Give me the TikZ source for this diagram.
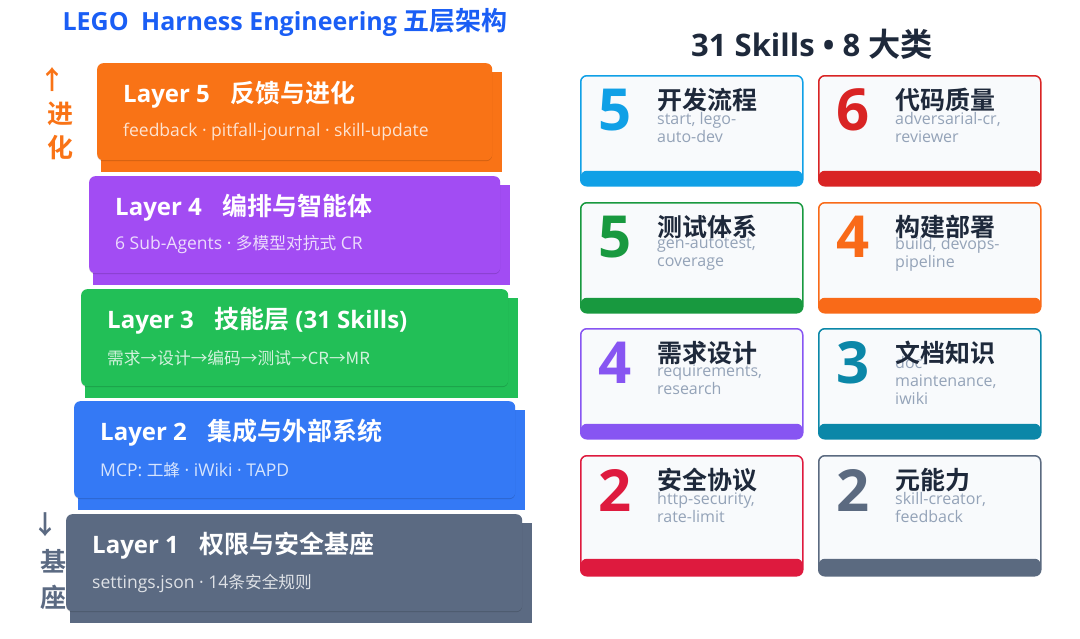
\documentclass[tikz,border=0pt]{standalone}
\usepackage{fontspec}
\setmainfont{Open Sans}
\newfontfamily\zhfont{Noto Sans CJK SC}[Scale=1.04, BoldFont={Noto Sans CJK SC Bold}]
\newfontfamily\zhsubfont{Noto Sans CJK SC}[Scale=0.955]
\newcommand{\zh}[1]{{\zhfont #1}}
\newcommand{\zs}[1]{{\zhsubfont #1}}
\usetikzlibrary{positioning, shadows}

\definecolor{titleblue}{HTML}{1A5EF5}
\definecolor{ink}{HTML}{1E293B}
\definecolor{mute}{HTML}{94A3B8}
\definecolor{cardbg}{HTML}{F8FAFC}
\definecolor{lorange}{HTML}{F97316}
\definecolor{lpurple}{HTML}{A24CF3}
\definecolor{lgreen}{HTML}{22BF57}
\definecolor{lblue}{HTML}{3479F5}
\definecolor{lslate}{HTML}{5B6A82}
\definecolor{csky}{HTML}{10A0E6}
\definecolor{cred}{HTML}{D92424}
\definecolor{cgreen}{HTML}{18993F}
\definecolor{corange}{HTML}{F96A18}
\definecolor{cviolet}{HTML}{8755F2}
\definecolor{cteal}{HTML}{0B87A8}
\definecolor{crose}{HTML}{DE1A3E}
\definecolor{cslate}{HTML}{5B6A80}

\tikzset{
  layerbox/.style={rectangle, rounded corners=6pt, anchor=north west,
    minimum height=97pt, inner sep=0pt,
    general shadow={fill=black, opacity=.15, shadow xshift=0pt, shadow yshift=-1pt}},
  layerhead/.style={anchor=west, inner sep=0pt, text=white,
    font=\fontsize{24}{28}\selectfont\bfseries},
  layersub/.style={anchor=west, inner sep=0pt, text=white, text opacity=.8,
    font=\fontsize{17.5}{20}\selectfont},
  sidemark/.style={inner sep=0pt, font=\fontsize{25}{30}\selectfont\bfseries\zhfont},
  card/.style={rectangle, rounded corners=6pt, anchor=north west,
    minimum width=222pt, line width=1.5pt, fill=cardbg, inner sep=0pt},
  cardnum/.style={inner sep=0pt, font=\fontsize{58}{60}\selectfont\bfseries},
  cardname/.style={anchor=west, inner sep=0pt, text=ink,
    font=\fontsize{24}{28}\selectfont\bfseries\zhfont},
  cardsub/.style={anchor=west, inner sep=0pt, align=left, text=mute,
    font=\fontsize{16}{18}\selectfont},
}

\begin{document}
\begin{tikzpicture}[x=1pt, y=-1pt]
\useasboundingbox (0,0) rectangle (1080,638);

% left title
\node[inner sep=0pt, text=titleblue, font=\fontsize{25}{29}\selectfont\bfseries]
  (lefttitle) at (285,22) {LEGO\hspace{0.5em}Harness Engineering \zh{五层架构}};

% side marks, behind the layers
\node[sidemark, text=lorange] (upmark) at (52,80) {↑};
\node[sidemark, text=lorange] (jin) at (60,114) {进};
\node[sidemark, text=lorange] (hua) at (60,148) {化};
\node[sidemark, text=lslate] (downmark) at (45,525) {↓};
\node[sidemark, text=lslate] (ji) at (53,561) {基};
\node[sidemark, text=lslate] (zuo) at (53,597) {座};

% the five layers
\foreach \n/\xl/\yt/\w/\col/\head/\sub in {
  5/97/63/395/lorange/{\zh{反馈与进化}}/{feedback · pitfall-journal · skill-update},
  4/89/176/411/lpurple/{\zh{编排与智能体}}/{6 Sub-Agents · \zs{多模型对抗式} CR},
  3/81/289/427/lgreen/{\zh{技能层} (31 Skills)}/{\zs{需求→设计→编码→测试→CR→MR}},
  2/74/401/441/lblue/{\zh{集成与外部系统}}/{MCP: \zs{工蜂} · iWiki · TAPD},
  1/66/514/456/lslate/{\zh{权限与安全基座}}/{settings.json · 14\zs{条安全规则}}}{
  \fill[\col] (\xl+4,\yt+9) rectangle (\xl+\w+10,\yt+109);
  \node[layerbox, fill=\col, minimum width=\w] (layer\n) at (\xl,\yt) {};
  \node[layerhead] (head\n) at ([xshift=26pt,yshift=-32pt]layer\n.north west)
    {Layer \n\hspace{0.85em}\head};
  \node[layersub] (sub\n) at ([xshift=26pt,yshift=-69pt]layer\n.north west) {\sub};
}

% right title
\node[inner sep=0pt, text=ink, font=\fontsize{31}{35}\selectfont\bfseries]
  (skilltitle) at (812,44) {31 Skills • 8 \zh{大类}};

% skill cards
\foreach \i/\cx/\cy/\h/\bh/\col/\num/\name/\sub in {
  1/580/75/110/15/csky/5/开发流程/{start, lego-\\auto-dev},
  2/818/75/110/15/cred/6/代码质量/{adversarial-cr,\\reviewer},
  3/580/202/110/15/cgreen/5/测试体系/{gen-autotest,\\coverage},
  4/818/202/110/15/corange/4/构建部署/{build, devops-\\pipeline},
  5/580/328/110/15/cviolet/4/需求设计/{requirements,\\research},
  6/818/328/110/15/cteal/3/文档知识/{doc-\\maintenance,\\iwiki},
  7/580/455/120/17/crose/2/安全协议/{http-security,\\rate-limit},
  8/818/455/120/17/cslate/2/元能力/{skill-creator,\\feedback}}{
  \node[card, draw=\col, minimum height=\h, path picture={
      \fill[\col] ([yshift=\bh pt]path picture bounding box.south west)
        rectangle (path picture bounding box.south east);}] (card\i) at (\cx,\cy) {};
  \node[cardnum, text=\col] (num\i) at ([xshift=35pt,yshift=-35pt]card\i.north west) {\num};
  \node[cardsub] (csub\i) at ([xshift=77pt,yshift=-52pt]card\i.north west) {\sub};
  \node[cardname] (name\i) at ([xshift=77pt,yshift=-25pt]card\i.north west) {\name};
}
\end{tikzpicture}
\end{document}
